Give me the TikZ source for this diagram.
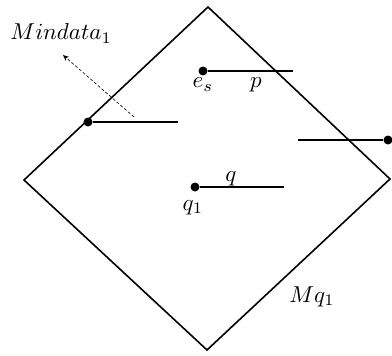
\documentclass[tikz,border=0pt]{standalone}
\usetikzlibrary{arrows.meta}
\begin{document}
\begin{tikzpicture}[x=1pt,y=-1pt,
  edge/.style={line width=1.6pt},
  dotn/.style={circle,fill=black,inner sep=0pt,minimum size=9pt},
  lbl/.style={scale=2.3,inner sep=0pt,anchor=base}]
\useasboundingbox (0,0) rectangle (392,356);
\coordinate (T) at (208,7);
\coordinate (R) at (390,179);
\coordinate (B) at (207,350);
\coordinate (L) at (24,180);
\draw[edge,line join=miter] (T) -- (R) -- (B) -- (L) -- cycle;
% left segment
\node[dotn] (a) at (88,122) {};
\coordinate (a2) at (178,122);
\draw[edge] (a) -- (a2);
% e_s segment
\node[dotn] (es) at (203,71) {};
\coordinate (es2) at (293,71);
\draw[edge] (es) -- (es2);
% right segment
\node[dotn] (r) at (388,140) {};
\coordinate (r2) at (298,140);
\draw[edge] (r) -- (r2);
% q segment
\node[dotn] (q1) at (195,187) {};
\coordinate (q2) at (284,187);
\draw[edge] (q1) -- (q2);
% labels
\node[lbl] (les) at (203,88) {$e_s$};
\node[lbl] (lp) at (256,88) {$p$};
\node[lbl] (lq) at (231,181) {$q$};
\node[lbl] (lq1) at (193,210) {$q_1$};
\node[lbl] (lmq) at (312,302) {$Mq_1$};
\node[lbl,anchor=base west] (lmd) at (10,40) {$Mindata_1$};
\coordinate (d1) at (134,117);
\coordinate (d2) at (63,55);
\draw[densely dashed,line width=0.6pt,-{Stealth[length=6pt,width=5pt]}] (d1) -- (d2);
\end{tikzpicture}
\end{document}
